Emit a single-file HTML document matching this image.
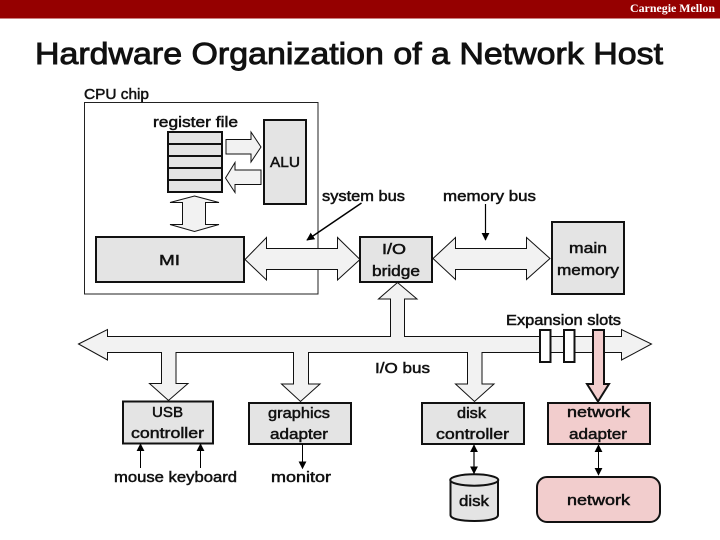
<!DOCTYPE html>
<html>
<head>
<meta charset="utf-8">
<style>
html,body{margin:0;padding:0;background:#fff;}
svg{display:block;}
text{font-family:"Liberation Sans",sans-serif;fill:#111;font-size:15px;stroke:#111;stroke-width:.5px;}
</style>
</head>
<body>
<svg width="720" height="540" viewBox="0 0 720 540" xmlns="http://www.w3.org/2000/svg">
<defs>
<marker id="a" viewBox="0 0 10 10" refX="9" refY="5" markerWidth="8" markerHeight="8" markerUnits="userSpaceOnUse" orient="auto-start-reverse"><path d="M0 0L10 5L0 10z" fill="#000"/></marker>
</defs>
<rect width="720" height="540" fill="#fff"/>
<rect width="720" height="18.5" fill="#950000"/>
<text x="630" y="12" textLength="85" lengthAdjust="spacingAndGlyphs" style="font-family:'Liberation Serif',serif;font-size:12px;font-weight:bold;fill:#fff;stroke:none">Carnegie Mellon</text>
<text x="35" y="64" textLength="628" lengthAdjust="spacingAndGlyphs" style="font-size:31px;stroke-width:.9px">Hardware Organization of a Network Host</text>

<rect x="84.5" y="102.5" width="233.5" height="191.5" fill="#fff" stroke="#222" stroke-width="1"/>

<!-- register file -->
<rect x="168" y="132" width="54" height="60" fill="#e4e4e4" stroke="#111" stroke-width="2"/>
<path d="M168 144H222M168 156H222M168 168H222M168 180H222" stroke="#111" stroke-width="2" fill="none"/>
<rect x="264" y="120" width="42" height="84" fill="#e4e4e4" stroke="#111" stroke-width="2"/>

<g fill="#f2f2f2" stroke="#111" stroke-width="1">
<polygon points="226,139.5 251,139.5 251,132 261,147 251,162 251,154 226,154"/>
<polygon points="261,170 235,170 235,162.5 225.5,178 235,192.5 235,184.5 261,184.5"/>
<polygon points="194.5,196 219,202.5 205.5,202.5 205.5,224.5 219,224.5 194.5,231.5 170,224.5 182.5,224.5 182.5,202.5 170,202.5"/>
<polygon points="245,259.5 266.5,237.5 266.5,248.5 337.5,248.5 337.5,237.5 360,259.5 337.5,280 337.5,269.5 266.5,269.5 266.5,280"/>
<polygon points="433,258.5 455.5,237.5 455.5,248.5 526.5,248.5 526.5,237.5 550,258.5 526.5,279.5 526.5,269.5 455.5,269.5 455.5,279.5"/>
<polygon points="78.5,344 107.5,329.5 107.5,336.5 390.5,336.5 390.5,299 378.5,299 397.5,282.5 417,299 404.5,299 404.5,336.5 621.5,336.5 621.5,329.5 651.5,344 621.5,360 621.5,352.5 482,352.5 482,384 494,384 474.5,401.5 455.5,384 467.5,384 467.5,352.5 308.5,352.5 308.5,384 320,384 300.5,401.5 281.5,384 293.5,384 293.5,352.5 176,352.5 176,383.5 188,383.5 168.5,400.5 149.5,383.5 161.5,383.5 161.5,352.5 107.5,352.5 107.5,360"/>
</g>

<g fill="#e4e4e4" stroke="#111" stroke-width="2">
<rect x="96" y="237" width="148" height="45"/>
<rect x="360" y="237" width="72" height="45"/>
<rect x="552" y="222" width="72" height="72"/>
<rect x="123" y="401.5" width="90" height="42"/>
<rect x="249" y="403" width="102" height="41"/>
<rect x="422" y="403" width="102" height="41"/>
</g>
<rect x="548" y="403" width="102" height="41" fill="#f2cdcd" stroke="#111" stroke-width="2"/>
<rect x="537" y="477" width="123" height="45" rx="10" fill="#f2cdcd" stroke="#111" stroke-width="2"/>

<!-- slots -->
<rect x="540" y="330" width="10.5" height="32" fill="#fff" stroke="#111" stroke-width="2"/>
<rect x="564" y="330" width="10.5" height="32" fill="#fff" stroke="#111" stroke-width="2"/>
<polygon points="593,330 604,330 604,384 609,384 598,401.5 587,384 593,384" fill="#f2cdcd" stroke="#111" stroke-width="2"/>

<!-- disk -->
<path d="M450.5 480V515C450.5 519 461 521 474.5 521S498 519 498 515V480" fill="#e4e4e4" stroke="#111" stroke-width="2"/>
<ellipse cx="474.25" cy="480" rx="24" ry="5.7" fill="#e4e4e4" stroke="#111" stroke-width="2"/>

<!-- thin arrows -->
<g stroke="#000" fill="none">
<line x1="361.5" y1="203" x2="307" y2="240" stroke-width="1.5" marker-end="url(#a)"/>
<line x1="485.5" y1="204" x2="485.5" y2="240" stroke-width="1.2" marker-end="url(#a)"/>
<line x1="140.5" y1="468" x2="140.5" y2="444" stroke-width="1" marker-end="url(#a)"/>
<line x1="200.5" y1="468" x2="200.5" y2="444" stroke-width="1" marker-end="url(#a)"/>
<line x1="302.5" y1="444" x2="302.5" y2="468.5" stroke-width="1" marker-end="url(#a)"/>
<line x1="474" y1="445" x2="474" y2="473.5" stroke-width="1.2" marker-start="url(#a)" marker-end="url(#a)"/>
<line x1="598.5" y1="445" x2="598.5" y2="475" stroke-width="1" marker-start="url(#a)" marker-end="url(#a)"/>
</g>

<!-- labels -->
<text x="84" y="99" textLength="65" lengthAdjust="spacingAndGlyphs">CPU chip</text>
<text x="153" y="127" textLength="85" lengthAdjust="spacingAndGlyphs">register file</text>
<text x="270" y="167" textLength="30" lengthAdjust="spacingAndGlyphs">ALU</text>
<text x="322" y="201" textLength="83" lengthAdjust="spacingAndGlyphs">system bus</text>
<text x="443" y="201" textLength="93" lengthAdjust="spacingAndGlyphs">memory bus</text>
<text x="159" y="265" textLength="21" lengthAdjust="spacingAndGlyphs">MI</text>
<text x="382" y="254" textLength="24" lengthAdjust="spacingAndGlyphs">I/O</text>
<text x="372" y="276" textLength="48" lengthAdjust="spacingAndGlyphs">bridge</text>
<text x="569" y="253" textLength="38" lengthAdjust="spacingAndGlyphs">main</text>
<text x="557" y="275" textLength="62" lengthAdjust="spacingAndGlyphs">memory</text>
<text x="506" y="325" textLength="115" lengthAdjust="spacingAndGlyphs">Expansion slots</text>
<text x="375" y="373" textLength="55" lengthAdjust="spacingAndGlyphs">I/O bus</text>
<text x="152" y="417" textLength="31" lengthAdjust="spacingAndGlyphs">USB</text>
<text x="131" y="438" textLength="73" lengthAdjust="spacingAndGlyphs">controller</text>
<text x="268" y="418" textLength="62" lengthAdjust="spacingAndGlyphs">graphics</text>
<text x="270" y="439" textLength="58" lengthAdjust="spacingAndGlyphs">adapter</text>
<text x="114" y="482" textLength="123" lengthAdjust="spacingAndGlyphs">mouse keyboard</text>
<text x="271" y="482" textLength="60" lengthAdjust="spacingAndGlyphs">monitor</text>
<text x="457" y="418" textLength="29" lengthAdjust="spacingAndGlyphs">disk</text>
<text x="436" y="439" textLength="73" lengthAdjust="spacingAndGlyphs">controller</text>
<text x="567" y="417" textLength="63" lengthAdjust="spacingAndGlyphs">network</text>
<text x="569" y="439" textLength="58" lengthAdjust="spacingAndGlyphs">adapter</text>
<text x="459" y="506" textLength="30" lengthAdjust="spacingAndGlyphs">disk</text>
<text x="567" y="505" textLength="63" lengthAdjust="spacingAndGlyphs">network</text>
</svg>
</body>
</html>
